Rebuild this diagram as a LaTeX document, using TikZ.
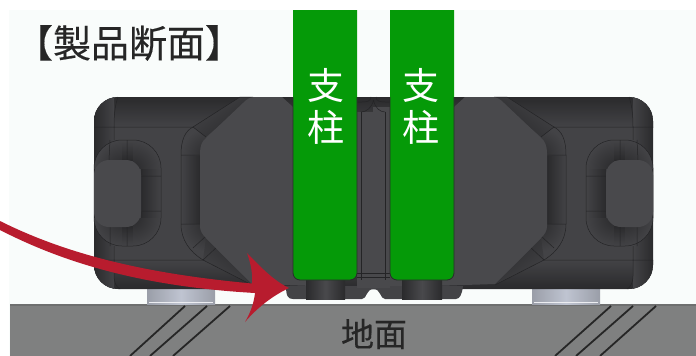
\documentclass[tikz,border=0pt]{standalone}
\usepackage{fontspec}
\newfontfamily\jpfont[FakeBold=0.3]{Noto Sans CJK JP}
\newfontfamily\jplight{Noto Sans CJK JP}
\definecolor{paper}{HTML}{F9FCFB}
\definecolor{plate}{HTML}{7F8080}
\definecolor{plateedge}{HTML}{6E6F6F}
\definecolor{housing}{HTML}{434346}
\definecolor{housingdark}{HTML}{2A2A2C}
\definecolor{face}{HTML}{49494C}
\definecolor{edge}{HTML}{242426}
\definecolor{post}{HTML}{059A08}
\definecolor{silver}{HTML}{BFC4D1}
\definecolor{silverdark}{HTML}{9A9EA8}
\definecolor{arrowred}{HTML}{B81C2E}
\tikzset{
    edgeline/.style={draw=edge, line width=0.5pt},
    facepart/.style={fill=face},
    hatchline/.style={draw=black!85, line width=1.8pt},
    postlabel/.style={text=white, font=\jplight\fontsize{37}{37}\selectfont, inner sep=0pt},
    bandin/.style={left color=housing, right color=housingdark},
    bandout/.style={left color=housingdark, right color=housing},
    bandside/.style={left color=housingdark, right color=housing},
    diagupper/.style={top color=housing, bottom color=housingdark, shading angle=40},
    diaglower/.style={top color=housingdark, bottom color=housing, shading angle=-40},
}
% one side of the housing, the other one is mirrored
\newcommand{\housingside}{
    % foot screw
    \shade[left color=silverdark, right color=silverdark, middle color=silver] (147,285) rectangle (215,304);
    \fill[white!70!silver] (149,301.5) rectangle (213,303);
    % upper and lower strips
    \begin{scope}
        \clip[rounded corners=24] (430,97) -- (94,97) -- (94,289) -- (430,289) -- cycle;
        \fill[housing] (94,97) rectangle (430,289);
        \shade[top color=housingdark, bottom color=housing] (94,97) rectangle (430,127);
        \shade[top color=housing, bottom color=housingdark] (94,260) rectangle (430,289);
        \shade[bandside] (94,97) rectangle (114,289);
    \end{scope}
    % loop round the side pad
    \begin{scope}
        \clip[rounded corners=28] (94,246) -- (94,140) -- (161,140) -- (161,246) -- cycle;
        \shade[top color=housing, bottom color=housingdark] (122,140) rectangle (133,160);
        \shade[top color=housingdark, bottom color=housing] (122,226) rectangle (133,246);
        \shade[bandout] (141,168) rectangle (161,218);
        \foreach \cx/\cy/\ex/\ey in {133/168/161/140, 133/218/161/246, 122/168/94/140, 122/218/94/246} {
            \begin{scope}
                \clip (\cx,\cy) rectangle (\ex,\ey);
                \shade[inner color=housingdark, outer color=housing] (\cx,\cy) circle (28);
            \end{scope}
        }
    \end{scope}
    \draw[edgeline, rounded corners=28] (94,246) -- (94,140) -- (161,140) -- (161,246) -- cycle;
    \draw[edgeline] (110,140) -- (109,160) (127,140) -- (127,160) (110,226) -- (110,246) (127,226) -- (127,246) (141,176) -- (161,176) (141,211) -- (161,211);
    % diagonal channel
    \shade[bandin] (181,155) rectangle (200,224);
    \begin{scope}
        \clip (181,127) rectangle (206,155);
        \shade[inner color=housingdark, outer color=housing, shading=radial] (209,155) circle (28);
    \end{scope}
    \begin{scope}
        \clip (181,224) rectangle (206,252);
        \shade[inner color=housingdark, outer color=housing, shading=radial] (209,224) circle (28);
    \end{scope}
    \shade[diagupper] (193,127) -- (240,97) -- (253,97) -- (206,137) -- cycle;
    \shade[diaglower] (203,260) -- (252,285) -- (206,238) -- cycle;
    \draw[edgeline] (253,97) -- (240,97) -- (193,127) .. controls (185,131) and (181,140) .. (181,155) -- (181,224) .. controls (181,240) and (190,252) .. (203,260) -- (252,285);
    \draw[edgeline] (181,155) -- (200,155) (193,127) -- (206,137) (181,224) -- (200,224) (193,248) -- (206,236) (203,260) -- (218,246);
    % housing lines
    \draw[edgeline] (94,127) -- (193,127) (94,260) -- (203,260) (118,97) .. controls (115,105) and (114,115) .. (114,127) -- (114,140) (114,246) -- (114,276) .. controls (114,282) and (116,287) .. (120,289);
    % side pad
    \fill[facepart, rounded corners=15] (94,227) -- (94,160) -- (141,160) -- (141,227) -- cycle;
    % big flat face
    \fill[facepart] (200,153) .. controls (200,146) and (202,141) .. (206,138) -- (243,103) .. controls (247,99) and (250,97) .. (255,97) -- (282,97) -- (293,107) -- (374,107) -- (374,288) -- (252,284) -- (206,238) .. controls (202,234) and (200,231) .. (200,226) -- cycle;
}
\begin{document}
\begin{tikzpicture}[x=1pt, y=-1pt]
    \useasboundingbox (0,0) rectangle (696,356);
    % sheet
    \fill[white] (0,0) rectangle (696,356);
    \fill[paper] (9,10) rectangle (696,356);

    % ground
    \fill[plate] (10,304) rectangle (696,356);
    \fill[plateedge] (10,304) rectangle (696,306);

    % both sides
    \housingside
    \begin{scope}[xscale=-1, xshift=-747pt]
        \tikzset{bandin/.style={left color=housingdark, right color=housing}, bandout/.style={left color=housing, right color=housingdark}, bandside/.style={left color=housing, right color=housingdark}, diagupper/.style={top color=housing, bottom color=housingdark, shading angle=-40}, diaglower/.style={top color=housingdark, bottom color=housing, shading angle=40}}
        \housingside
    \end{scope}

    % lower middle block with the notch
    \fill[housing] (286,286) .. controls (286,296) and (288,299) .. (293,299) -- (362,299) .. controls (367,299) and (366,289) .. (373.5,289) .. controls (381,289) and (380,299) .. (385,299) -- (456,299) .. controls (460,299) and (462,294) .. (463,286) -- cycle;
    \fill[facepart] (357,112) rectangle (390,288);
    \draw[edgeline] (361,112) -- (361,280) (385,112) -- (385,280) (357,273) -- (390,273) (357,277) -- (390,277);
    \draw[edgeline] (357,102) -- (362,102) .. controls (367,102) and (371,101) .. (371,97) (390,102) -- (385,102) .. controls (380,102) and (376,101) .. (376,97);
    \draw[edgeline] (361,112) .. controls (366,112) and (372,108) .. (373.5,100) (385,112) .. controls (380,112) and (375,108) .. (373.5,100);

    % short rods under the posts
    \shade[left color=housingdark, right color=housingdark, middle color=face] (306,280) rectangle (345,299);
    \shade[left color=housingdark, right color=housingdark, middle color=face] (402,280) rectangle (442,299);

    % posts
    \fill[post, rounded corners=7] (293,10) [sharp corners] -- (293,200) [rounded corners=7] -- (293,280) -- (357,280) [sharp corners] -- (357,10) -- cycle;
    \fill[post, rounded corners=7] (390,10) [sharp corners] -- (390,200) [rounded corners=7] -- (390,280) -- (454,280) [sharp corners] -- (454,10) -- cycle;
    \draw[housingdark, line width=0.8pt, rounded corners=7] (293,97) [sharp corners] -- (293,200) [rounded corners=7] -- (293,280) -- (357,280) [sharp corners] -- (357,97);
    \draw[housingdark, line width=0.8pt, rounded corners=7] (390,97) [sharp corners] -- (390,200) [rounded corners=7] -- (390,280) -- (454,280) [sharp corners] -- (454,97);
    \node[postlabel] (postlefta) at (326,85) {支};
    \node[postlabel] (postleftb) at (326,127) {柱};
    \node[postlabel] (postrighta) at (421,85) {支};
    \node[postlabel] (postrightb) at (421,127) {柱};

    % ground hatching
    \foreach \xa/\xb in {185/130, 207/150, 230/173, 611/555, 633/576, 656/600}
        \draw[hatchline] (\xa,306) -- (\xb,356);

    % texts
    \node[text=black!85, font=\jpfont\fontsize{38}{38}\selectfont, inner sep=0pt] (title) at (129,43) {【製品断面】};
    \node[text=black!85, font=\jpfont\fontsize{33}{33}\selectfont, inner sep=0pt] (ground) at (374,334) {地面};

    % red arrow
    \fill[arrowred] (0,221) .. controls (70,256) and (150,274) .. (252,283.5) .. controls (253,275) and (251,264) .. (247,253) .. controls (257,263) and (272,280) .. (289,288) .. controls (272,296) and (257,308) .. (245,322) .. controls (251,312) and (254,302) .. (255,293) .. controls (150,287) and (70,266) .. (0,230) -- cycle;
\end{tikzpicture}
\end{document}
